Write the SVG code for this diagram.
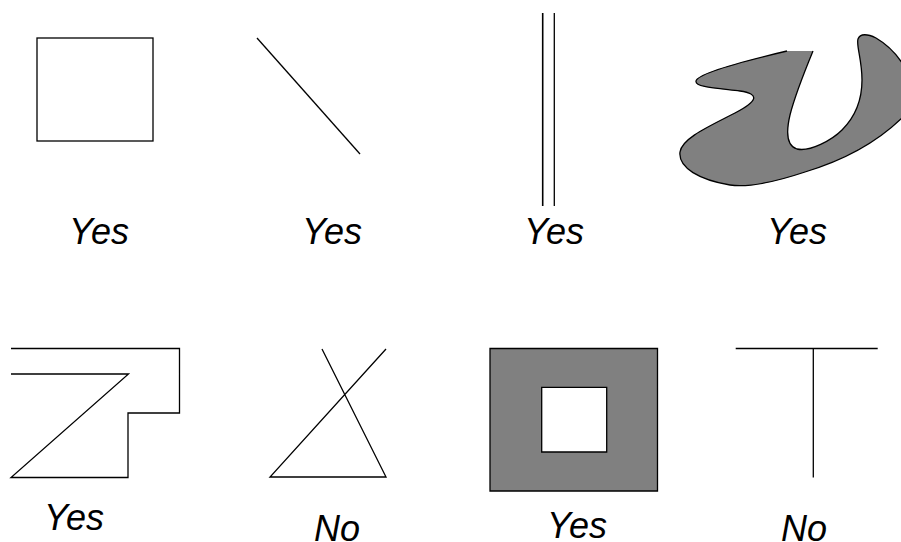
<svg xmlns="http://www.w3.org/2000/svg" width="901" height="542" viewBox="0 0 901 542">
<style>
.ln{fill:none;stroke:#000;stroke-width:1.3;stroke-linejoin:miter}
.gr{fill:#808080;stroke:#000;stroke-width:1.3}
.lbl{font-family:"Liberation Sans",Arial,sans-serif;font-style:italic;font-size:36px;fill:#000}
</style>
<rect width="901" height="542" fill="#fff"/>
<g id="square">
<rect class="ln" x="37" y="38" width="116" height="103"/>
<text class="lbl" x="69" y="244">Yes</text>
</g>
<g id="diagonal">
<line class="ln" x1="257" y1="38" x2="360" y2="154"/>
<text class="lbl" x="302" y="244">Yes</text>
</g>
<g id="parallel">
<line class="ln" x1="542.7" y1="13" x2="542.7" y2="206" style="stroke-width:1.6"/>
<line class="ln" x1="554.3" y1="13" x2="554.3" y2="206"/>
<text class="lbl" x="524" y="244">Yes</text>
</g>
<g id="blob">
<path d="M787 51 L813 51 C806 68 795 95 790 115 C786 132 787 146 797 149 C810 152 832 140 842 130 C855 117 862 100 862 80 C862 60 856 45 858 39 C860 33 868 34 876 38 C888 45 898 56 904 66 L904 116 C880 140 845 160 805 172 C775 182 750 188 730 185 C700 180 678 168 680 152 C682 138 710 126 735 113 C758 101 760 94 740 91 C715 88 695 87 696 81 C697 74 740 62 787 51 Z" fill="#808080"/>
<path class="ln" d="M813 51 C806 68 795 95 790 115 C786 132 787 146 797 149 C810 152 832 140 842 130 C855 117 862 100 862 80 C862 60 856 45 858 39 C860 33 868 34 876 38 C888 45 898 56 904 66 L904 116 C880 140 845 160 805 172 C775 182 750 188 730 185 C700 180 678 168 680 152 C682 138 710 126 735 113 C758 101 760 94 740 91 C715 88 695 87 696 81 C697 74 740 62 787 51"/>
<text class="lbl" x="767" y="244">Yes</text>
</g>
<g id="step">
<path class="ln" d="M11 348.5 H179.5 V413 H128 V477.5 H11 L128.5 374 H11"/>
<text class="lbl" x="44" y="530">Yes</text>
</g>
<g id="crossed">
<path class="ln" d="M322 349 L386 477 H270 L386 349"/>
<text class="lbl" x="314" y="541">No</text>
</g>
<g id="ring">
<path class="gr" fill-rule="evenodd" d="M490 348.5 H657.5 V491 H490 Z M541.7 387.3 V452 H606.7 V387.3 Z"/>
<text class="lbl" x="547" y="538">Yes</text>
</g>
<g id="tee">
<line class="ln" x1="735.7" y1="348.5" x2="877.7" y2="348.5"/>
<line class="ln" x1="813.3" y1="348.5" x2="813.3" y2="477.5"/>
<text class="lbl" x="781" y="541">No</text>
</g>
</svg>
